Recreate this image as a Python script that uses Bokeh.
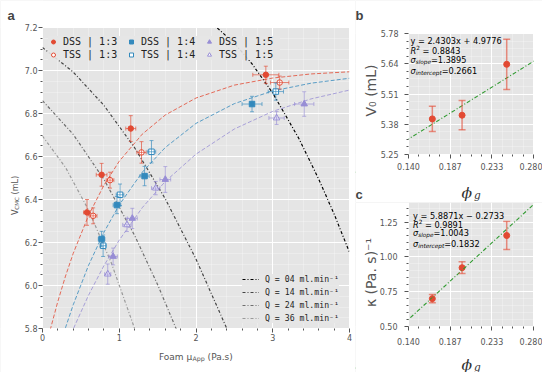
import numpy as np
from bokeh.plotting import figure
from bokeh.models import (Range1d, FixedTicker, Whisker, TeeHead, ColumnDataSource,
                          Label, Legend, LegendItem, Slope, BoxAnnotation, PrintfTickFormatter)
from bokeh.layouts import row, column
from bokeh.embed import file_html
from bokeh.resources import INLINE

# ---------------- Panel a data ----------------
dss13_mu = [0.58, 0.77, 1.15, 2.91]
dss13_v = [6.34, 6.515, 6.73, 6.98]
dss13_xerr = [0.045, 0.07, 0.065, 0.17]
dss13_yerr = [0.06, 0.053, 0.06, 0.04]

tss13_mu = [0.66, 0.88, 1.29, 3.09]
tss13_v = [6.324, 6.49, 6.619, 6.944]
tss13_xerr = [0.05, 0.05, 0.06, 0.12]
tss13_yerr = [0.037, 0.037, 0.05, 0.03]

dss14_mu = [0.77, 0.97, 1.33, 2.73]
dss14_v = [6.216, 6.374, 6.509, 6.844]
dss14_xerr = [0.043, 0.05, 0.06, 0.13]
dss14_yerr = [0.036, 0.04, 0.045, 0.036]

tss14_mu = [0.79, 1.01, 1.42, 3.04]
tss14_v = [6.185, 6.422, 6.622, 6.902]
tss14_xerr = [0.04, 0.05, 0.055, 0.10]
tss14_yerr = [0.05, 0.05, 0.052, 0.04]

dss15_mu = [0.92, 1.17, 1.60, 3.41]
dss15_v = [6.135, 6.312, 6.493, 6.844]
dss15_xerr = [0.055, 0.065, 0.07, 0.126]
dss15_yerr = [0.039, 0.047, 0.06, 0.057]

tss15_mu = [0.85, 1.10, 1.475, 3.05]
tss15_v = [6.053, 6.282, 6.453, 6.779]
tss15_xerr = [0.04, 0.055, 0.055, 0.10]
tss15_yerr = [0.047, 0.031, 0.031, 0.03]

# fitted curves
curve_mu = [0.1, 0.2, 0.3, 0.4, 0.6, 0.8, 1.0, 1.3, 1.6, 2.0, 2.5, 3.0, 3.5, 4.0]
fit13_v = [5.793, 5.926, 6.044, 6.149, 6.326, 6.466, 6.578, 6.704, 6.793, 6.872, 6.932, 6.965, 6.984, 6.994]
fit14_v = [5.561, 5.688, 5.804, 5.910, 6.094, 6.247, 6.375, 6.527, 6.642, 6.754, 6.846, 6.905, 6.941, 6.964]
fit15_v = [5.514, 5.615, 5.709, 5.797, 5.955, 6.092, 6.211, 6.362, 6.484, 6.611, 6.728, 6.810, 6.868, 6.909]

# flow-rate lines
q04_mu = [2.2, 2.5, 2.73, 3.0, 3.34, 3.6, 3.8, 4.0]
q04_v = [7.222, 7.127, 7.031, 6.895, 6.684, 6.494, 6.332, 6.154]
q14_mu = [0.0, 0.4, 0.8, 1.2, 1.6, 2.0, 2.4, 2.5]
q14_v = [7.107, 6.993, 6.838, 6.641, 6.403, 6.123, 5.801, 5.715]
q24_mu = [0.0, 0.4, 0.8, 1.2, 1.5, 1.74, 1.8]
q24_v = [6.86, 6.703, 6.494, 6.233, 6.004, 5.80, 5.746]
q36_mu = [0.0, 0.3, 0.6, 0.9, 1.2, 1.3]
q36_v = [6.695, 6.549, 6.351, 6.102, 5.80, 5.688]
q_labels = ["Q = 04 ml.min⁻¹", "Q = 14 ml.min⁻¹", "Q = 24 ml.min⁻¹", "Q = 36 ml.min⁻¹"]

a_xticks = [0, 1, 2, 3, 4]
a_yticks = [5.8, 6.0, 6.2, 6.4, 6.6, 6.8, 7.0, 7.2]

# ---------------- Panels b / c data ----------------
phi_g = [0.1667, 0.2, 0.25]
v0 = [5.406, 5.422, 5.645]
v0_err = [0.055, 0.064, 0.11]
kappa = [0.700, 0.922, 1.153]
kappa_err = [0.03, 0.042, 0.10]
v0_slope, v0_intercept = 2.4303, 4.9776
k_slope, k_intercept = 5.8871, -0.2733
b_text = ["y = 2.4303x + 4.9776", "0.8843", "=1.3895", "=0.2661"]
c_text = ["y = 5.8871x − 0.2733", "0.9891", "=1.0043", "=0.1832"]
bc_xticks = [0.14, 0.14 + 0.14 / 3, 0.14 + 0.28 / 3, 0.28]
bc_xlabels = ["0.140", "0.187", "0.233", "0.280"]
b_yticks = [5.25, 5.3825, 5.515, 5.6475, 5.78]
b_ylabels = ["5.25", "5.38", "5.51", "5.64", "5.78"]
c_yticks = [0.5, 0.75, 1.0, 1.25]
c_ylabels = ["0.50", "0.75", "1.00", "1.25"]

RED, BLUE, PURPLE = "#E24A33", "#348ABD", "#988ED5"
BG = "#E5E5E5"
TICKC = "#555555"
NB = "\u00a0"

CW = {' ': 0.318, NB: 0.318, '.': 0.318, '=': 0.838, '+': 0.838, '−': 0.838, '(': 0.390,
      ')': 0.390, 'y': 0.592, 'x': 0.592, 'R': 0.695, 'σ': 0.634, 's': 0.521, 'l': 0.278,
      'o': 0.612, 'p': 0.635, 'e': 0.615, 'i': 0.278, 'n': 0.634, 't': 0.392, 'r': 0.411,
      'c': 0.550, 'F': 0.575, 'a': 0.613, 'm': 0.974, 'μ': 0.636, 'A': 0.684, 'P': 0.603,
      'V': 0.684, 'C': 0.698, 'M': 0.863, 'L': 0.557, 'ϕ': 0.80, 'g': 0.60}


def text_w(s, size):
    return sum(CW.get(ch, 0.636) for ch in s) * size


def add_runs(p, x, y, x0, y0, runs, angle=0.0, color="#000000"):
    pos = 0.0
    for txt, size, style, shift, font in runs:
        if angle == 0:
            xo, yo = x0 + pos, y0 + shift
        else:
            xo, yo = x0 - shift, y0 + pos
        p.add_layout(Label(x=x, y=y, x_offset=xo, y_offset=yo, text=txt, text_font=font,
                           text_font_size=f"{size}px", text_font_style=style, text_color=color,
                           text_align="left", text_baseline="alphabetic", angle=angle))
        pos += text_w(txt, size)


def base_fig(W, H, xr, yr, box, xstand, ystand):
    # box: pixel edges (left, right, top, bottom) of the plotting area inside the canvas
    L, R, T, B = box
    sx = (R - L) / (xr[1] - xr[0])
    sy = (B - T) / (yr[1] - yr[0])
    p = figure(width=W, height=H,
               x_range=Range1d(xr[0] - L / sx, xr[1] + (W - R) / sx),
               y_range=Range1d(yr[0] - (H - B) / sy, yr[1] + T / sy),
               output_backend="svg", toolbar_location=None,
               min_border=0, min_border_left=0, min_border_right=0,
               min_border_top=0, min_border_bottom=0)
    p.title.visible = False
    p.background_fill_color = BG
    p.border_fill_color = "white"
    p.outline_line_color = None
    p.grid.grid_line_color = "white"
    p.grid.grid_line_width = 1
    p.grid.minor_grid_line_color = "white"
    p.grid.minor_grid_line_alpha = 0.45
    p.grid.minor_grid_line_width = 0.6
    # white margins around the plotting area
    for kw in [dict(right=xr[0]), dict(left=xr[1]), dict(top=yr[0]), dict(bottom=yr[1])]:
        p.add_layout(BoxAnnotation(fill_color="white", fill_alpha=1, line_color=None,
                                   level="guide", **kw))
    p.xaxis.fixed_location = yr[0]
    p.yaxis.fixed_location = xr[0]
    for ax in p.axis:
        ax.level = "annotation"
        ax.axis_line_color = None
        ax.major_tick_line_color = TICKC
        ax.minor_tick_line_color = TICKC
        ax.major_tick_out = 4
        ax.major_tick_in = 0
        ax.minor_tick_out = 2
        ax.minor_tick_in = 0
        ax.major_label_text_font = "DejaVu Sans"
        ax.major_label_text_font_size = "8px"
        ax.major_label_text_color = TICKC
    p.xaxis.major_label_standoff = xstand
    p.yaxis.major_label_standoff = ystand
    return p


# ================= Panel a =================
pa = base_fig(355, 372, (0, 4), (5.8, 7.2), (42, 349, 27, 328), 1, 1)
pa.xaxis.ticker = FixedTicker(ticks=a_xticks, minor_ticks=[i * 0.2 for i in range(21) if i % 5])
pa.yaxis.ticker = FixedTicker(ticks=a_yticks, minor_ticks=[5.8 + i * 0.05 for i in range(29) if i % 4])
pa.xaxis.formatter = PrintfTickFormatter(format="%d")
pa.yaxis.formatter = PrintfTickFormatter(format="%.1f")

dash_q = "3 2 1 2"
q_rs = []
for mu, v, col in [(q04_mu, q04_v, "#000000"), (q14_mu, q14_v, "#444444"),
                   (q24_mu, q24_v, "#6e6e6e"), (q36_mu, q36_v, "#9a9a9a")]:
    q_rs.append(pa.line(mu, v, line_color=col, line_width=1.2, line_dash=dash_q))

for v, col in [(fit13_v, RED), (fit14_v, BLUE), (fit15_v, PURPLE)]:
    pa.line(curve_mu, v, line_color=col, line_width=1, line_dash="4 2", line_alpha=0.8)

series = [
    ("DSS | 1:3", dss13_mu, dss13_v, dss13_xerr, dss13_yerr, RED, "circle", True, 5.5),
    ("TSS | 1:3", tss13_mu, tss13_v, tss13_xerr, tss13_yerr, RED, "circle", False, 5.5),
    ("DSS | 1:4", dss14_mu, dss14_v, dss14_xerr, dss14_yerr, BLUE, "square", True, 5.5),
    ("TSS | 1:4", tss14_mu, tss14_v, tss14_xerr, tss14_yerr, BLUE, "square", False, 5.5),
    ("DSS | 1:5", dss15_mu, dss15_v, dss15_xerr, dss15_yerr, PURPLE, "triangle", True, 6.5),
    ("TSS | 1:5", tss15_mu, tss15_v, tss15_xerr, tss15_yerr, PURPLE, "triangle", False, 6.5),
]
items_a = []
for lab, mu, v, xe, ye, col, mk, filled, sz in series:
    src = ColumnDataSource(dict(
        x=mu, y=v,
        ylo=[a - b for a, b in zip(v, ye)], yhi=[a + b for a, b in zip(v, ye)],
        xlo=[a - b for a, b in zip(mu, xe)], xhi=[a + b for a, b in zip(mu, xe)]))
    for dim, base, lo, hi in [("height", "x", "ylo", "yhi"), ("width", "y", "xlo", "xhi")]:
        w = Whisker(source=src, base=base, lower=lo, upper=hi, dimension=dim,
                    line_color=col, line_alpha=0.65, line_width=1,
                    upper_head=TeeHead(size=4, line_color=col, line_alpha=0.65, line_width=1),
                    lower_head=TeeHead(size=4, line_color=col, line_alpha=0.65, line_width=1),
                    level="glyph")
        pa.add_layout(w)
    r = pa.scatter("x", "y", source=src, marker=mk, size=sz, line_color=col, line_width=1,
                   fill_color=col if filled else "white")
    items_a.append(LegendItem(label=lab, renderers=[r]))

leg_a = Legend(items=items_a, location=(48, 312), orientation="vertical", nrows=2,
               glyph_width=10, glyph_height=11, label_height=11, label_width=61,
               label_standoff=5, spacing=2, padding=4,
               label_text_font="DejaVu Sans Mono", label_text_font_size="10px",
               label_text_color="#222222", background_fill_color=BG,
               background_fill_alpha=0.9, border_line_color=None)
pa.add_layout(leg_a)

leg_q = Legend(items=[LegendItem(label=l, renderers=[r]) for l, r in zip(q_labels, q_rs)],
               location=(242, 49), glyph_width=17, glyph_height=10,
               label_height=10, label_standoff=6, spacing=3, padding=2,
               label_text_font="DejaVu Sans Mono", label_text_font_size="8.2px",
               label_text_color="#222222", background_fill_color=BG,
               background_fill_alpha=0.9, border_line_color=None)
pa.add_layout(leg_q)

# axis labels and panel letter of a
add_runs(pa, 2, 5.8, -37.1, -28, [("Foam" + NB + "μ", 9, "normal", 0, "DejaVu Sans"),
                                  ("App", 6.3, "normal", -2, "DejaVu Sans"),
                                  (NB + "(Pa.s)", 9, "normal", 0, "DejaVu Sans")], color=TICKC)
add_runs(pa, 0, 5.8, -27, 113.4, [("V", 8, "normal", 0, "DejaVu Sans"),
                                  ("CMC", 5.6, "normal", -1.8, "DejaVu Sans"),
                                  (NB + "(mL)", 8, "normal", 0, "DejaVu Sans")],
         angle=np.pi / 2, color=TICKC)
pa.add_layout(Label(x=0, y=7.2, x_offset=-35, y_offset=12, text="a", text_font="Liberation Sans",
                    text_font_style="bold", text_font_size="13px", text_baseline="alphabetic"))


# ================= Panels b, c =================
def side_panel(H, yr, box, yticks, ylabels, yminor, xstand, ystand):
    p = base_fig(187, H, (0.14, 0.28), yr, box, xstand, ystand)
    xminor = [0.14 + i * 0.14 / 12 for i in range(13) if i % 4]
    p.xaxis.ticker = FixedTicker(ticks=bc_xticks, minor_ticks=xminor)
    p.xaxis.major_label_overrides = dict(zip(bc_xticks, bc_xlabels))
    p.yaxis.ticker = FixedTicker(ticks=yticks, minor_ticks=yminor)
    p.yaxis.major_label_overrides = dict(zip(yticks, ylabels))
    return p


b_minor = [5.25 + i * 0.1325 / 4 for i in range(17) if i % 4]
pb = side_panel(202, (5.25, 5.78), (53, 178, 33, 154), b_yticks, b_ylabels, b_minor, 4, 6)
c_minor = [0.5 + i * 0.05 for i in range(18) if i % 5]
pc = side_panel(170, (0.5, 1.39), (53, 178, 0, 124), c_yticks, c_ylabels, c_minor, 7, 7)

for p, vals, errs, sl, ic, texts, yr, x0, ys, ylab, ylab_dy in [
        (pb, v0, v0_err, v0_slope, v0_intercept, b_text, (5.25, 5.78), 2,
         [-7.7, -17, -26, -37], "V₀ (mL)", 3.5),
        (pc, kappa, kappa_err, k_slope, k_intercept, c_text, (0.5, 1.39), 4.5,
         [-13.3, -22, -30.7, -41.7], "κ (Pa. s)⁻¹", -8)]:
    p.add_layout(Slope(gradient=sl, y_intercept=ic, line_color="#2f9a2f", line_width=1.1,
                       line_dash="4 2 1 2", level="glyph"))
    src = ColumnDataSource(dict(x=phi_g, y=vals,
                                lo=[a - b for a, b in zip(vals, errs)],
                                hi=[a + b for a, b in zip(vals, errs)]))
    p.add_layout(Whisker(source=src, base="x", lower="lo", upper="hi", dimension="height",
                         line_color=RED, line_alpha=0.6, line_width=1.5, level="glyph",
                         upper_head=TeeHead(size=7, line_color=RED, line_alpha=0.6, line_width=1.5),
                         lower_head=TeeHead(size=7, line_color=RED, line_alpha=0.6, line_width=1.5)))
    p.scatter("x", "y", source=src, marker="circle", size=6, fill_color=RED, line_color=RED)
    fs = 8.2
    ytop = yr[1]
    add_runs(p, 0.14, ytop, x0, ys[0], [(texts[0], fs, "normal", 0, "DejaVu Sans")])
    add_runs(p, 0.14, ytop, x0, ys[1], [("R", fs, "italic", 0, "DejaVu Sans"),
                                        ("2", 5.7, "normal", 3.2, "DejaVu Sans"),
                                        (NB + "=" + NB + texts[1], fs, "normal", 0, "DejaVu Sans")])
    add_runs(p, 0.14, ytop, x0, ys[2], [("σ", fs, "italic", 0, "DejaVu Sans"),
                                        ("slope", 5.74, "italic", -2, "DejaVu Sans"),
                                        (texts[2], fs, "normal", 0, "DejaVu Sans")])
    add_runs(p, 0.14, ytop, x0, ys[3], [("σ", fs, "italic", 0, "DejaVu Sans"),
                                        ("intercept", 5.74, "italic", -2, "DejaVu Sans"),
                                        (texts[3], fs, "normal", 0, "DejaVu Sans")])
    # y axis label
    p.add_layout(Label(x=0.14, y=(yr[0] + yr[1]) / 2, x_offset=-37.5, y_offset=ylab_dy, text=ylab,
                       text_font="DejaVu Sans", text_font_size="14px", text_color=TICKC,
                       text_align="center", text_baseline="alphabetic", angle=np.pi / 2))
    # x axis label
    add_runs(p, 0.21, yr[0], -9.5, -38, [("ϕ", 15.5, "italic", 0, "DejaVu Serif"),
                                        ("g", 10.5, "italic", -2.5, "DejaVu Serif")],
             color="#333333")

pb.add_layout(Label(x=0.14, y=5.78, x_offset=-53, y_offset=18, text="b", text_font="Liberation Sans",
                    text_font_style="bold", text_font_size="13px", text_baseline="alphabetic"))
pb.add_layout(Label(x=0.14, y=5.25, x_offset=-53, y_offset=-40, text="c", text_font="Liberation Sans",
                    text_font_style="bold", text_font_size="13px", text_baseline="alphabetic"))

layout = row(pa, column(pb, pc))
open("out.html", "w").write(file_html(layout, INLINE))
